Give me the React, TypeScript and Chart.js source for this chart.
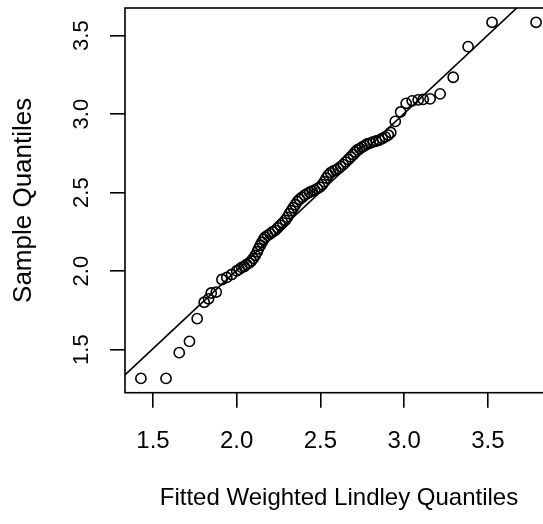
import React, { useEffect, useRef } from "react";
import { Chart, registerables } from "chart.js";

Chart.register(...registerables);

const fittedQuantiles = [1.428,1.578,1.657,1.718,1.764,1.806,1.832,1.848,1.878,1.912,1.941,1.970,2.000,2.015,2.030,2.045,2.060,2.075,2.087,2.099,2.111,2.123,2.130,2.141,2.151,2.161,2.170,2.185,2.200,2.215,2.230,2.245,2.260,2.275,2.290,2.302,2.314,2.326,2.338,2.350,2.362,2.376,2.391,2.406,2.421,2.436,2.451,2.466,2.481,2.496,2.511,2.523,2.535,2.547,2.561,2.576,2.591,2.606,2.621,2.636,2.651,2.666,2.681,2.696,2.708,2.720,2.735,2.750,2.765,2.779,2.797,2.815,2.833,2.851,2.869,2.887,2.905,2.920,2.947,2.979,3.012,3.048,3.084,3.114,3.155,3.215,3.293,3.382,3.525,3.788];
const sampleQuantiles = [1.317,1.317,1.481,1.553,1.698,1.802,1.824,1.861,1.867,1.947,1.960,1.979,2.002,2.011,2.024,2.030,2.043,2.053,2.065,2.081,2.101,2.123,2.142,2.165,2.184,2.203,2.216,2.228,2.238,2.251,2.260,2.276,2.292,2.308,2.324,2.343,2.366,2.385,2.404,2.423,2.443,2.458,2.471,2.484,2.494,2.503,2.510,2.516,2.526,2.535,2.551,2.570,2.593,2.612,2.628,2.637,2.644,2.653,2.666,2.679,2.695,2.711,2.727,2.743,2.759,2.772,2.781,2.791,2.800,2.810,2.816,2.823,2.829,2.835,2.845,2.855,2.867,2.883,2.954,3.014,3.069,3.085,3.091,3.094,3.097,3.129,3.235,3.430,3.585,3.585];
const qqLineX = [1.2, 4.0];
const qqLineY = [1.207, 4.003];
const xTicks = [1.5, 2.0, 2.5, 3.0, 3.5];
const yTicks = [1.5, 2.0, 2.5, 3.0, 3.5];
const xRange = [1.333, 3.889];
const yRange = [1.226, 3.676];
const xTitle = "Fitted Weighted Lindley Quantiles";
const yTitle = "Sample Quantiles";

const FONT = "'Liberation Sans', Arial, Helvetica, sans-serif";
const LW = 1.6;

const boxPlugin = {
  id: "rbox",
  afterDraw(chart: any) {
    const { ctx, chartArea } = chart;
    ctx.save();
    ctx.strokeStyle = "#000";
    ctx.lineWidth = LW;
    ctx.strokeRect(chartArea.left, chartArea.top, chartArea.right - chartArea.left, chartArea.bottom - chartArea.top);
    ctx.restore();
  },
};

export default function App() {
  const ref = useRef<HTMLCanvasElement | null>(null);
  useEffect(() => {
    if (!ref.current) return;
    const chart = new Chart(ref.current, {
      type: "scatter",
      data: {
        datasets: [
          {
            type: "scatter",
            data: fittedQuantiles.map((x, i) => ({ x, y: sampleQuantiles[i] })),
            pointStyle: "circle",
            pointRadius: 5.1,
            pointBorderWidth: 1.6,
            pointBorderColor: "#000",
            pointBackgroundColor: "rgba(0,0,0,0)",
          },
          {
            type: "line",
            data: qqLineX.map((x, i) => ({ x, y: qqLineY[i] })),
            borderColor: "#000",
            borderWidth: LW,
            pointRadius: 0,
            fill: false,
          } as any,
        ],
      },
      options: {
        responsive: false,
        animation: false,
        events: [],
        layout: { padding: { top: 8, right: 27, left: 0, bottom: 0 } },
        plugins: { legend: { display: false }, tooltip: { enabled: false } },
        scales: {
          x: {
            type: "linear",
            position: "bottom",
            min: xRange[0],
            max: xRange[1],
            afterBuildTicks: (s: any) => { s.ticks = xTicks.map((v) => ({ value: v })); },
            afterFit: (s: any) => { s.height = 131.3; s.paddingLeft = 0; s.paddingRight = 0; },
            border: { display: false },
            grid: { display: true, drawOnChartArea: false, drawTicks: true, tickLength: 15, color: "#000", lineWidth: LW },
            ticks: { color: "#000", font: { family: FONT, size: 24 }, padding: 19, maxRotation: 0, autoSkip: false, callback: (v: any) => Number(v).toFixed(1) },
            title: { display: true, text: xTitle, color: "#000", font: { family: FONT, size: 24 }, padding: { top: 0, bottom: 11 } },
          },
          y: {
            type: "linear",
            position: "left",
            min: yRange[0],
            max: yRange[1],
            afterBuildTicks: (s: any) => { s.ticks = yTicks.map((v) => ({ value: v })); },
            afterFit: (s: any) => { s.width = 125; s.paddingTop = 0; s.paddingBottom = 0; },
            border: { display: false },
            grid: { display: true, drawOnChartArea: false, drawTicks: true, tickLength: 15, color: "#000", lineWidth: LW },
            ticks: { color: "#000", font: { family: FONT, size: 22 }, padding: 13, minRotation: 90, maxRotation: 90, crossAlign: "center", autoSkip: false, callback: (v: any) => Number(v).toFixed(1) },
            title: { display: true, text: yTitle, color: "#000", font: { family: FONT, size: 26 }, padding: { top: 8, bottom: 0 } },
          },
        },
      },
      plugins: [boxPlugin],
    } as any);
    return () => chart.destroy();
  }, []);
  return (
    <div style={{ position: "fixed", left: 0, top: 0, width: 543, height: 524, overflow: "hidden", background: "#fff" }}>
      <canvas ref={ref} width={580} height={524} style={{ display: "block", width: 580, height: 524 }} />
    </div>
  );
}
